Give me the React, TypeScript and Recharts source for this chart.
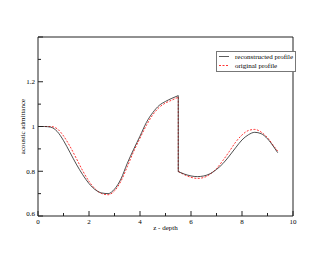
import React from 'react';
import { LineChart, Line, XAxis, YAxis, Legend } from 'recharts';

// depth samples, split at the jump near z = 5.5
const depthBefore = [0, 0.25, 0.5, 0.75, 1, 1.25, 1.5, 1.75, 2, 2.25, 2.5, 2.75, 3, 3.25, 3.5, 3.75, 4, 4.25, 4.5, 4.75, 5, 5.25, 5.5];
const reconBefore = [1.0, 1.0, 0.997, 0.978, 0.937, 0.885, 0.832, 0.785, 0.745, 0.717, 0.703, 0.7, 0.72, 0.765, 0.835, 0.898, 0.957, 1.018, 1.062, 1.094, 1.112, 1.126, 1.138];
const origBefore = [1.0, 1.0, 1.0, 0.99, 0.958, 0.912, 0.858, 0.803, 0.755, 0.72, 0.7, 0.695, 0.712, 0.755, 0.82, 0.888, 0.948, 1.005, 1.052, 1.085, 1.105, 1.118, 1.131];

const depthAfter = [5.5, 5.75, 6, 6.25, 6.5, 6.75, 7, 7.25, 7.5, 7.75, 8, 8.25, 8.5, 8.75, 9, 9.25, 9.4];
const reconAfter = [0.798, 0.787, 0.779, 0.776, 0.779, 0.789, 0.808, 0.834, 0.868, 0.905, 0.94, 0.963, 0.974, 0.968, 0.945, 0.908, 0.883];
const origAfter = [0.8, 0.784, 0.773, 0.768, 0.772, 0.787, 0.812, 0.848, 0.888, 0.93, 0.962, 0.982, 0.987, 0.975, 0.95, 0.912, 0.89];

const xTicks = [0, 1, 2, 3, 4, 5, 6, 7, 8, 9, 10];
const yTicks = [0.6, 0.7, 0.8, 0.9, 1.0, 1.1, 1.2, 1.3, 1.4];
const seriesNames = ['reconstructed profile', 'original profile'];

const FONT = "'Liberation Serif', 'DejaVu Serif', serif";
const AXIS = '#222';

const toPoints = (xs: number[], ys: number[]) => xs.map((x, i) => ({ x, y: ys[i] }));
const jump = (yb: number[], ya: number[]) => [
  { x: depthBefore[depthBefore.length - 1], y: yb[yb.length - 1] },
  { x: depthAfter[0], y: ya[0] },
];

const isMajorX = (v: number) => v % 2 === 0;
const isMajorY = (v: number) => Math.round(v * 10) % 2 === 0;
const fmtY = (v: number) => String(Number(v.toFixed(1)));

const BottomTick = (props: any) => {
  const { x, y, payload } = props;
  const major = isMajorX(payload.value);
  return (
    <g>
      <line x1={x} x2={x} y1={y} y2={y - (major ? 5 : 3)} stroke={AXIS} />
      {major && (
        <text x={x} y={y + 8} textAnchor="middle" fontSize={7} fontFamily={FONT} fill="#000">
          {payload.value}
        </text>
      )}
    </g>
  );
};

const TopTick = (props: any) => {
  const { x, y, payload } = props;
  const major = isMajorX(payload.value);
  return <line x1={x} x2={x} y1={y} y2={y + (major ? 5 : 3)} stroke={AXIS} />;
};

const LeftTick = (props: any) => {
  const { x, y, payload } = props;
  const v = payload.value;
  const major = isMajorY(v);
  const showLabel = major && v < 1.35;
  const shift = v < 0.65 ? -3 : 0;
  return (
    <g>
      <line x1={x} x2={x + (major ? 5 : 3)} y1={y} y2={y} stroke={AXIS} />
      {showLabel && (
        <text x={x - 3} y={y + 2.5 + shift} textAnchor="end" fontSize={7} fontFamily={FONT} fill="#000">
          {fmtY(v)}
        </text>
      )}
    </g>
  );
};

const RightTick = (props: any) => {
  const { x, y, payload } = props;
  const major = isMajorY(payload.value);
  return <line x1={x} x2={x - (major ? 5 : 3)} y1={y} y2={y} stroke={AXIS} />;
};

const LegendBox = () => (
  <div style={{ width: 80, height: 21, border: '1px solid #777', background: '#fff', boxSizing: 'border-box' }}>
    <svg width={78} height={19} style={{ display: 'block' }}>
      <line x1={2} x2={12} y1={4.5} y2={4.5} stroke="#333" strokeWidth={0.8} />
      <text x={18} y={7} fontSize={7} fontFamily={FONT} fill="#000">{seriesNames[0]}</text>
      <line x1={2} x2={12} y1={13.5} y2={13.5} stroke="#ff0000" strokeWidth={0.8} strokeDasharray="2 1.5" />
      <text x={18} y={16} fontSize={7} fontFamily={FONT} fill="#000">{seriesNames[1]}</text>
    </svg>
  </div>
);

export default function App() {
  const recon1 = toPoints(depthBefore, reconBefore);
  const recon2 = toPoints(depthAfter, reconAfter);
  const orig1 = toPoints(depthBefore, origBefore);
  const orig2 = toPoints(depthAfter, origAfter);
  const reconJump = jump(reconBefore, reconAfter);
  const origJump = jump(origBefore, origAfter);

  const black = { stroke: '#222', strokeWidth: 0.8, dot: false, isAnimationActive: false, legendType: 'none' as const };
  const red = { stroke: '#ff0000', strokeWidth: 0.8, strokeDasharray: '2 1.5', dot: false, isAnimationActive: false, legendType: 'none' as const };

  return (
    <div style={{ position: 'absolute', left: 0, top: 0, width: 330, height: 255, background: '#fff' }}>
      <LineChart width={330} height={255} margin={{ top: 36, right: 36, bottom: 0, left: 0 }}>
        <XAxis
          xAxisId="b"
          dataKey="x"
          type="number"
          domain={[0, 10]}
          ticks={xTicks}
          interval={0}
          height={39}
          tickSize={0}
          tickMargin={0}
          tickLine={false}
          axisLine={{ stroke: AXIS }}
          tick={BottomTick}
          label={{
            content: (p: any) => (
              <text x={p.viewBox.x + p.viewBox.width / 2} y={230} textAnchor="middle" fontSize={7} fontFamily={FONT} fill="#000">
                z - depth
              </text>
            ),
          }}
        />
        <XAxis
          xAxisId="t"
          dataKey="x"
          type="number"
          orientation="top"
          domain={[0, 10]}
          ticks={xTicks}
          interval={0}
          height={1}
          tickSize={0}
          tickMargin={0}
          tickLine={false}
          axisLine={{ stroke: AXIS }}
          tick={TopTick}
        />
        <YAxis
          yAxisId="l"
          type="number"
          domain={[0.6, 1.4]}
          ticks={yTicks}
          interval={0}
          width={38}
          tickSize={0}
          tickMargin={0}
          tickLine={false}
          axisLine={{ stroke: AXIS }}
          tick={LeftTick}
          label={{
            content: (p: any) => (
              <text
                transform={`translate(25, ${p.viewBox.y + p.viewBox.height / 2}) rotate(-90)`}
                textAnchor="middle"
                fontSize={7}
                fontFamily={FONT}
                fill="#000"
              >
                acoustic admittance
              </text>
            ),
          }}
        />
        <YAxis
          yAxisId="r"
          type="number"
          orientation="right"
          domain={[0.6, 1.4]}
          ticks={yTicks}
          interval={0}
          width={1}
          tickSize={0}
          tickMargin={0}
          tickLine={false}
          axisLine={{ stroke: AXIS }}
          tick={RightTick}
        />
        <Legend
          layout="vertical"
          align="center"
          verticalAlign="middle"
          content={LegendBox}
          wrapperStyle={{ left: 216, top: 51, width: 80, height: 21 }}
        />
        <Line xAxisId="b" yAxisId="l" data={orig1} dataKey="y" type="monotone" {...red} />
        <Line xAxisId="b" yAxisId="l" data={origJump} dataKey="y" type="linear" {...red} />
        <Line xAxisId="b" yAxisId="l" data={orig2} dataKey="y" type="monotone" {...red} />
        <Line xAxisId="b" yAxisId="l" data={recon1} dataKey="y" type="monotone" {...black} />
        <Line xAxisId="b" yAxisId="l" data={reconJump} dataKey="y" type="linear" {...black} />
        <Line xAxisId="b" yAxisId="l" data={recon2} dataKey="y" type="monotone" {...black} />
      </LineChart>
    </div>
  );
}
